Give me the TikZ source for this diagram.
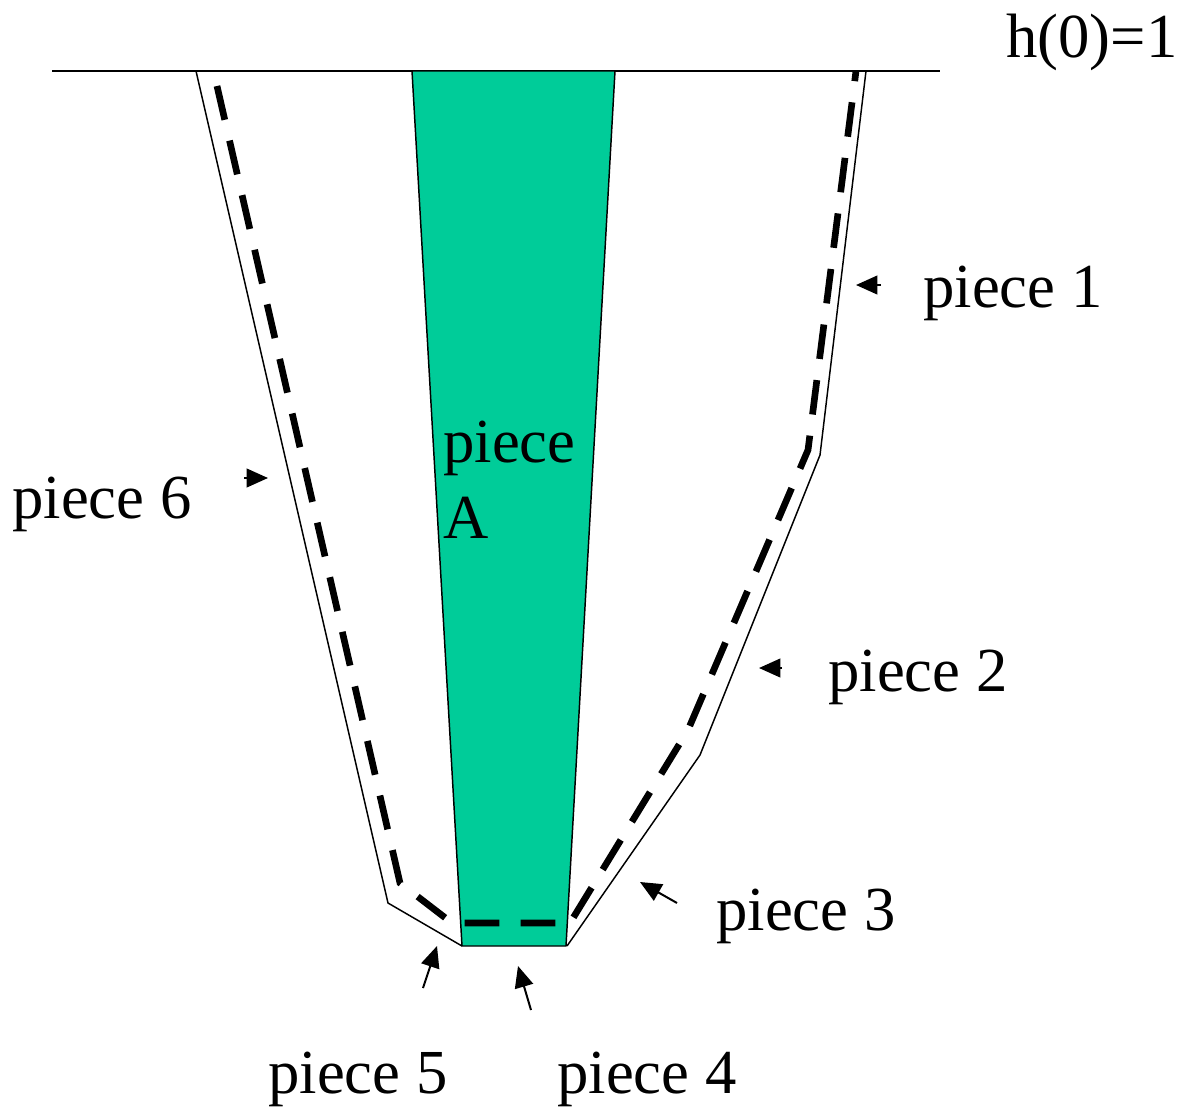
\documentclass[tikz,border=0pt]{standalone}
\usepackage{fontspec}
\setmainfont{Liberation Serif}
\usetikzlibrary{arrows.meta}
\definecolor{pieceA}{RGB}{0,204,153}
\begin{document}
\begin{tikzpicture}[x=0.75pt,y=-0.75pt,
  lbl/.style={anchor=base west,inner sep=0pt,font=\fontsize{47}{56}\selectfont},
  thinline/.style={draw=black,line width=1.1pt,line join=miter},
  dashpath/.style={draw=black,line width=5pt,dash pattern=on 26pt off 16pt},
  ptr/.style={draw=black,line width=1.5pt,-{Triangle[length=16pt,width=14pt]}}]
\useasboundingbox (0,0) rectangle (1181,1107);
% top line
\coordinate (L0) at (52,71);
\coordinate (L1) at (940,71);
\draw[thinline] (L0) -- (L1);
% green piece A
\coordinate (A1) at (412,71);
\coordinate (A2) at (615,71);
\coordinate (A3) at (566,946);
\coordinate (A4) at (462,946);
\filldraw[fill=pieceA,thinline] (A1) -- (A2) -- (A3) -- (A4) -- cycle;
% outer thin polyline
\coordinate (R0) at (866,71);
\coordinate (R1) at (820,455);
\coordinate (R2) at (700,755);
\coordinate (R3) at (567,946);
\coordinate (Q0) at (196,71);
\coordinate (Q1) at (388,903);
\coordinate (Q2) at (462,946);
\draw[thinline] (R0) -- (R1) -- (R2) -- (R3);
\draw[thinline] (Q0) -- (Q1) -- (Q2);
% dashed path
\coordinate (D0) at (856,71);
\coordinate (D1) at (808,450);
\coordinate (D2) at (688,730);
\coordinate (D3) at (570,923);
\coordinate (D4) at (452,923);
\coordinate (D5) at (400,883);
\coordinate (D6) at (217,86);
\draw[dashpath] (D6) -- (D5) -- (D4) -- (D3) -- (D2) -- (D1) -- (D0);
% labels
\node[lbl] (h) at (1006,57) {h(0)=1};
\node[lbl] (p1) at (923,307) {piece 1};
\node[lbl] (p2) at (828,691) {piece 2};
\node[lbl] (p3) at (716,930) {piece 3};
\node[lbl] (p4) at (557,1093) {piece 4};
\node[lbl] (p5) at (268,1093) {piece 5};
\node[lbl] (p6) at (12,518) {piece 6};
\node[lbl] (pa1) at (443,462) {piece};
\node[lbl] (pa2) at (443,538) {A};
% arrows
\coordinate (t1) at (881,285); \coordinate (h1) at (856,285);
\coordinate (t2) at (782,668); \coordinate (h2) at (759,668);
\coordinate (t3) at (677,903); \coordinate (h3) at (640,882);
\coordinate (t4) at (531,1010); \coordinate (h4) at (518,966);
\coordinate (t5) at (423,988); \coordinate (h5) at (437,946);
\coordinate (t6) at (244,478); \coordinate (h6) at (268,478);
\draw[ptr] (t1) -- (h1);
\draw[ptr] (t2) -- (h2);
\draw[ptr] (t3) -- (h3);
\draw[ptr] (t4) -- (h4);
\draw[ptr] (t5) -- (h5);
\draw[ptr] (t6) -- (h6);
\end{tikzpicture}
\end{document}
